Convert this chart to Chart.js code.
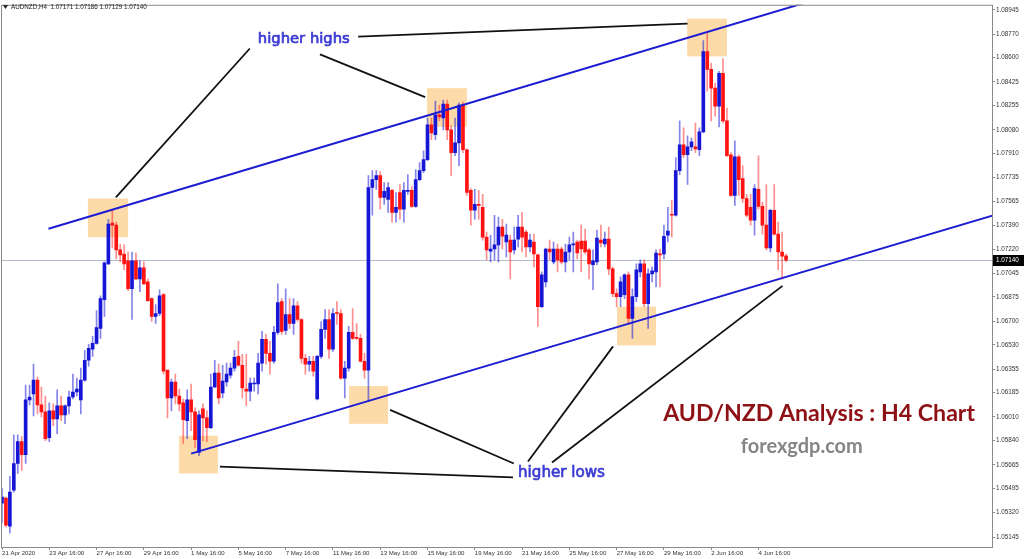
<!DOCTYPE html>
<html><head><meta charset="utf-8">
<script src="https://cdn.jsdelivr.net/npm/chart.js@4.4.1/dist/chart.umd.min.js"></script>
<style>html,body{margin:0;padding:0;background:#fff;overflow:hidden}#wrap{position:relative;width:1024px;height:559px}</style>
</head><body><div id="wrap"><canvas id="c" width="1024" height="559"></canvas></div>
<script>
// ---- OHLC data (AUDNZD H4), bar index 0 = 21 Apr 2020 16:00 ----
const opens = [1.05389,1.05425,1.05224,1.05482,1.05675,1.05833,1.05739,1.06133,1.06176,1.06276,
1.06097,1.06047,1.05861,1.06054,1.05997,1.06090,1.06025,1.06090,1.06154,1.06190,
1.06133,1.06276,1.06419,1.06498,1.06541,1.06648,1.06856,1.07114,1.07407,1.07393,
1.07214,1.07185,1.07135,1.06934,1.07135,1.07006,1.07085,1.06984,1.06863,1.06734,
1.06756,1.06892,1.06348,1.06147,1.06262,1.06161,1.06112,1.05983,1.06133,1.06047,
1.05754,1.06069,1.06004,1.05933,1.06226,1.06326,1.06183,1.06262,1.06312,1.06362,
1.06447,1.06383,1.06212,1.06197,1.06248,1.06248,1.06398,1.06569,1.06469,1.06412,
1.06620,1.06841,1.06634,1.06749,1.06684,1.06812,1.06713,1.06433,1.06391,1.06412,
1.06140,1.06447,1.06641,1.06713,1.06498,1.06763,1.06756,1.06290,1.06362,1.06620,
1.06584,1.06577,1.06412,1.06348,1.07664,1.07721,1.07750,1.07592,1.07578,1.07643,
1.07485,1.07628,1.07507,1.07636,1.07643,1.07528,1.07721,1.07786,1.07865,1.08115,
1.08044,1.08187,1.08165,1.08265,1.08079,1.07915,1.07986,1.08258,1.07936,1.07643,
1.07500,1.07543,1.07521,1.07306,1.07206,1.07221,1.07250,1.07378,1.07271,1.07285,
1.07214,1.07292,1.07378,1.07342,1.07235,1.07271,1.07178,1.06805,1.06984,1.07221,
1.07128,1.07221,1.07221,1.07128,1.07199,1.07250,1.07271,1.07278,1.07278,1.07214,
1.07107,1.07128,1.07285,1.07257,1.07292,1.07078,1.06899,1.06877,1.06892,1.07035,
1.06720,1.06877,1.07056,1.07114,1.06827,1.07042,1.07056,1.07185,1.07185,1.07321,
1.07471,1.07464,1.07786,1.07972,1.07900,1.07957,1.07957,1.07936,1.08065,1.08644,
1.08516,1.08380,1.08251,1.08487,1.08144,1.07900,1.07607,1.07886,1.07729,1.07585,
1.07521,1.07428,1.07650,1.07528,1.07393,1.07228,1.07500,1.07328,1.07199,1.07171];
const highs = [1.05496,1.05432,1.05582,1.05882,1.05882,1.05868,1.06240,1.06240,1.06391,1.06297,
1.06226,1.06161,1.06112,1.06105,1.06205,1.06161,1.06097,1.06197,1.06319,1.06290,
1.06362,1.06491,1.06534,1.06591,1.06777,1.06884,1.07128,1.07435,1.07500,1.07414,
1.07257,1.07250,1.07199,1.07199,1.07192,1.07135,1.07128,1.07006,1.06870,1.06820,
1.06927,1.06899,1.06348,1.06283,1.06319,1.06212,1.06140,1.06205,1.06248,1.06076,
1.06054,1.06105,1.06054,1.06319,1.06419,1.06391,1.06383,1.06398,1.06398,1.06491,
1.06555,1.06462,1.06462,1.06290,1.06290,1.06469,1.06627,1.06605,1.06555,1.06663,
1.06970,1.06863,1.06934,1.06863,1.06863,1.06841,1.06720,1.06462,1.06447,1.06447,
1.06455,1.06698,1.06784,1.06784,1.06791,1.06841,1.06784,1.06412,1.06663,1.06791,
1.06684,1.06605,1.06469,1.07750,1.07786,1.07786,1.07779,1.07700,1.07700,1.07650,
1.07628,1.07686,1.07700,1.07757,1.07671,1.07793,1.07843,1.07929,1.08165,1.08165,
1.08287,1.08258,1.08294,1.08294,1.08108,1.08165,1.08272,1.08280,1.07943,1.07657,
1.07650,1.07643,1.07614,1.07342,1.07321,1.07464,1.07450,1.07435,1.07400,1.07321,
1.07378,1.07464,1.07485,1.07357,1.07328,1.07328,1.07185,1.07056,1.07228,1.07285,
1.07271,1.07257,1.07235,1.07257,1.07306,1.07342,1.07285,1.07393,1.07364,1.07228,
1.07214,1.07357,1.07393,1.07342,1.07378,1.07092,1.06934,1.07020,1.07042,1.07056,
1.06934,1.07114,1.07142,1.07142,1.07078,1.07092,1.07214,1.07221,1.07393,1.07521,
1.07571,1.07879,1.08144,1.08094,1.08036,1.08022,1.08129,1.08094,1.08723,1.08773,
1.08559,1.08416,1.08501,1.08594,1.08237,1.07915,1.08001,1.07900,1.07822,1.07614,
1.07614,1.07686,1.07893,1.07557,1.07686,1.07507,1.07686,1.07414,1.07342,1.07186];
const lows = [1.05246,1.05217,1.05175,1.05468,1.05604,1.05625,1.05675,1.06097,1.06018,1.06033,
1.06011,1.05840,1.05833,1.05947,1.05890,1.05983,1.05962,1.06033,1.06140,1.06161,
1.06033,1.06269,1.06376,1.06447,1.06534,1.06577,1.06734,1.07107,1.07228,1.07149,
1.07128,1.07071,1.06920,1.06713,1.06999,1.06913,1.06963,1.06841,1.06698,1.06684,
1.06741,1.06319,1.06004,1.06054,1.06105,1.06054,1.05819,1.05854,1.05911,1.05790,
1.05732,1.05840,1.05833,1.05926,1.06219,1.06105,1.06147,1.06233,1.06290,1.06340,
1.06376,1.06147,1.06090,1.06126,1.06197,1.06176,1.06340,1.06391,1.06319,1.06398,
1.06605,1.06605,1.06605,1.06648,1.06605,1.06698,1.06398,1.06319,1.06340,1.06304,
1.06133,1.06433,1.06577,1.06433,1.06483,1.06677,1.06283,1.06147,1.06340,1.06569,
1.06569,1.06405,1.06290,1.06126,1.07464,1.07650,1.07507,1.07543,1.07485,1.07414,
1.07414,1.07435,1.07414,1.07614,1.07521,1.07521,1.07714,1.07771,1.07857,1.08008,
1.08008,1.08144,1.08079,1.08008,1.07750,1.07893,1.07822,1.07915,1.07607,1.07393,
1.07435,1.07435,1.07285,1.07142,1.07128,1.07142,1.07128,1.07221,1.07163,1.07006,
1.07185,1.07235,1.07199,1.07163,1.07199,1.07092,1.06663,1.06798,1.06948,1.07142,
1.07114,1.07056,1.07114,1.07056,1.07142,1.07056,1.07149,1.07056,1.07185,1.07006,
1.06927,1.07107,1.07235,1.07235,1.07035,1.06877,1.06805,1.06805,1.06863,1.06677,
1.06577,1.06841,1.07020,1.06805,1.06648,1.06984,1.06948,1.06948,1.07149,1.07271,
1.07306,1.07457,1.07757,1.07879,1.07686,1.07929,1.07915,1.07893,1.08058,1.08358,
1.08144,1.08179,1.08101,1.08129,1.07886,1.07600,1.07535,1.07607,1.07557,1.07450,
1.07393,1.07321,1.07507,1.07328,1.07214,1.07199,1.07321,1.07071,1.07006,1.07129];
const closes = [1.05432,1.05231,1.05468,1.05675,1.05833,1.05739,1.06133,1.06154,1.06276,1.06097,
1.06047,1.05854,1.06054,1.05997,1.06090,1.06025,1.06090,1.06154,1.06190,1.06212,
1.06276,1.06419,1.06505,1.06541,1.06655,1.06863,1.07121,1.07400,1.07393,1.07214,
1.07178,1.07114,1.06934,1.07135,1.07006,1.07085,1.06970,1.06849,1.06734,1.06756,
1.06884,1.06340,1.06147,1.06262,1.06161,1.06105,1.05990,1.06133,1.06047,1.05847,
1.06025,1.06004,1.05933,1.06226,1.06326,1.06147,1.06269,1.06319,1.06362,1.06440,
1.06383,1.06219,1.06197,1.06254,1.06254,1.06398,1.06569,1.06469,1.06412,1.06620,
1.06834,1.06627,1.06749,1.06684,1.06812,1.06713,1.06433,1.06391,1.06412,1.06340,
1.06447,1.06641,1.06713,1.06498,1.06756,1.06756,1.06290,1.06362,1.06620,1.06577,
1.06577,1.06412,1.06348,1.07664,1.07721,1.07750,1.07592,1.07636,1.07664,1.07485,
1.07521,1.07507,1.07643,1.07643,1.07528,1.07721,1.07786,1.07865,1.08115,1.08058,
1.08187,1.08172,1.08265,1.08079,1.07915,1.07986,1.08258,1.07936,1.07628,1.07500,
1.07543,1.07535,1.07306,1.07214,1.07221,1.07250,1.07378,1.07313,1.07321,1.07199,
1.07285,1.07378,1.07306,1.07235,1.07285,1.07185,1.06805,1.07035,1.07221,1.07199,
1.07221,1.07142,1.07128,1.07199,1.07250,1.07257,1.07192,1.07221,1.07199,1.07114,
1.07135,1.07299,1.07264,1.07292,1.07078,1.06899,1.06877,1.06984,1.07035,1.06720,
1.06877,1.07071,1.07114,1.06827,1.07042,1.07063,1.07192,1.07178,1.07313,1.07350,
1.07464,1.07786,1.07972,1.07900,1.07957,1.07993,1.07943,1.08065,1.08644,1.08516,
1.08380,1.08251,1.08487,1.08144,1.07893,1.07607,1.07886,1.07721,1.07585,1.07464,
1.07428,1.07657,1.07528,1.07393,1.07228,1.07500,1.07328,1.07199,1.07170,1.07140];

// ---- axis labels ----
const xTickIndex = [0,12,24,36,48,60,72,84,96,108,120,132,144,156,168,180,192];
const xTickLabels = ['21 Apr 2020','23 Apr 16:00','27 Apr 16:00','29 Apr 16:00','1 May 16:00','5 May 16:00',
  '7 May 16:00','11 May 16:00','13 May 16:00','15 May 16:00','19 May 16:00','21 May 16:00',
  '25 May 16:00','27 May 16:00','29 May 16:00','2 Jun 16:00','4 Jun 16:00'];
const yTickValues = [1.08945,1.08770,1.08600,1.08425,1.08255,1.08080,1.07910,1.07735,1.07565,1.07390,
  1.07220,1.07045,1.06875,1.06700,1.06530,1.06355,1.06185,1.06010,1.05840,1.05665,1.05495,1.05320,1.05145];
const currentPrice = 1.07140;
const symbolTitle = 'AUDNZD,H4  1.07171 1.07186 1.07129 1.07140';

// ---- annotations (bar index, price) ----
const upperTrend = [[11.8,1.07367],[206.6,1.09019]];
const lowerTrend = [[48.0,1.05746],[252.0,1.07467]];
const connectors = [
  [[62.9,1.08666],[28.9,1.07593]],
  [[80.7,1.08623],[107.4,1.08315]],
  [[90.4,1.08752],[174.0,1.08845]],
  [[55.3,1.05653],[129.7,1.05575]],
  [[98.5,1.06061],[129.9,1.05675]],
  [[133.5,1.05689],[155.1,1.06519]],
  [[139.6,1.05682],[198.1,1.06955]]
];
const highlightBoxes = [
  [21.8,32.0,1.07585,1.07306],
  [107.9,118.0,1.08380,1.08101],
  [173.9,184.0,1.08881,1.08609],
  [44.9,54.8,1.05875,1.05603],
  [88.1,98.0,1.06233,1.05961],
  [156.1,166.0,1.06805,1.06526]
];
const notes = [
  {text:'higher highs', x:76.6, y:1.08702, w:92, color:'#3c3cd4', font:'"DejaVu Sans"', weight:'normal', stroke:0.7},
  {text:'higher lows', x:142.0, y:1.05575, w:87, color:'#3c3cd4', font:'"DejaVu Sans"', weight:'normal', stroke:0.7},
  {text:'AUD/NZD Analysis : H4 Chart', x:207.4, y:1.05983, w:312, color:'#8e1116', font:'Lato', weight:'bold', stroke:0},
  {text:'forexgdp.com', x:203.0, y:1.05754, w:122, color:'#858585', font:'Lato', weight:'bold', stroke:0}
];

const UP='#1616d6', DN='#ff1212', WUP='rgba(30,30,215,0.55)', WDN='rgba(255,30,30,0.5)';
const idx = opens.map((_, i) => i);
const bull = idx.map(i => closes[i] >= opens[i]);
const wickData = idx.map(i => ({x:i, y:[lows[i], highs[i]]}));
const bodyData = idx.map(i => ({x:i, y:[Math.min(opens[i],closes[i]), Math.max(opens[i],closes[i])]}));
const toPts = seg => seg.map(([x,y]) => ({x, y}));

const datasets = [
  {type:'bar', data:wickData, grouped:false, barThickness:1, order:4,
   backgroundColor: c => bull[c.dataIndex] ? WUP : WDN, borderWidth:0},
  {type:'bar', data:bodyData, grouped:false, barThickness:3, minBarLength:1, order:3,
   backgroundColor: c => bull[c.dataIndex] ? UP : DN, borderWidth:0},
  ...connectors.map(s => ({type:'line', data:toPts(s), borderColor:'#111', borderWidth:1.8,
   pointRadius:0, order:1, clip:0})),
  {type:'line', data:toPts(upperTrend), borderColor:'#1c1cd2', borderWidth:2, pointRadius:0, order:0, clip:0},
  {type:'line', data:toPts(lowerTrend), borderColor:'#1c1cd2', borderWidth:2, pointRadius:0, order:0, clip:0}
];

const deco = {
  id:'deco',
  beforeDatasetsDraw(chart){
    const {ctx, chartArea:a, scales:{x,y}} = chart;
    ctx.save();
    ctx.beginPath(); ctx.rect(a.left, a.top, a.right-a.left, a.bottom-a.top); ctx.clip();
    const py = Math.round(y.getPixelForValue(currentPrice)) + 0.5;
    ctx.strokeStyle = '#b3bccb'; ctx.lineWidth = 1;
    ctx.beginPath(); ctx.moveTo(a.left, py); ctx.lineTo(a.right, py); ctx.stroke();
    ctx.fillStyle = '#fddba9';
    highlightBoxes.forEach(([i0,i1,p0,p1]) => {
      const x0 = x.getPixelForValue(i0), x1 = x.getPixelForValue(i1);
      const y0 = y.getPixelForValue(p0), y1 = y.getPixelForValue(p1);
      ctx.fillRect(x0, y0, x1-x0, y1-y0);
    });
    ctx.restore();
  },
  afterDraw(chart){
    const {ctx, chartArea:a, scales:{x,y}} = chart;
    ctx.save();
    ctx.strokeStyle = '#8a8a8a'; ctx.lineWidth = 1;
    ctx.strokeRect(a.left + 0.5, a.top + 0.5, a.right - a.left, a.bottom - a.top);
    notes.forEach(n => {
      ctx.font = n.weight + ' 20px ' + n.font;
      const w = ctx.measureText(n.text).width;
      const size = 20 * n.w / w;
      ctx.font = n.weight + ' ' + size.toFixed(2) + 'px ' + n.font;
      ctx.fillStyle = n.color; ctx.textAlign = 'center'; ctx.textBaseline = 'alphabetic';
      const px = x.getPixelForValue(n.x), pyy = y.getPixelForValue(n.y);
      ctx.fillText(n.text, px, pyy);
      if (n.stroke) { ctx.strokeStyle = n.color; ctx.lineWidth = n.stroke; ctx.strokeText(n.text, px, pyy); }
    });
    const py = Math.round(y.getPixelForValue(currentPrice));
    ctx.fillStyle = '#000';
    ctx.fillRect(a.right + 1, py - 5, 1024 - a.right - 1, 11);
    ctx.fillStyle = '#fff'; ctx.font = '6.3px "Liberation Sans"';
    ctx.textAlign = 'left'; ctx.textBaseline = 'middle';
    ctx.fillText(currentPrice.toFixed(5), a.right + 4, py + 0.5);
    ctx.fillStyle = '#222';
    ctx.beginPath(); ctx.moveTo(3, 5); ctx.lineTo(8, 5); ctx.lineTo(5.5, 9); ctx.closePath(); ctx.fill();
    ctx.font = '6.3px "Liberation Sans"';
    ctx.fillText(symbolTitle, 11, 7);
    ctx.restore();
  }
};

new Chart(document.getElementById('c'), {
  type:'bar',
  data:{datasets},
  options:{
    responsive:false, animation:false, devicePixelRatio:1,
    layout:{padding:{left:1, top:1, right:0, bottom:0}},
    plugins:{legend:{display:false}, tooltip:{enabled:false}},
    scales:{
      x:{type:'linear', min:-0.254, max:251.27, offset:false,
        grid:{display:true, drawOnChartArea:false, drawTicks:true, tickLength:3, color:'#8a8a8a', offset:false},
        border:{display:false},
        afterBuildTicks: s => { s.ticks = xTickIndex.map(v => ({value:v})); },
        afterFit: s => { s.height = 12; },
        ticks:{autoSkip:false, maxRotation:0, align:'start', padding:0, color:'#333',
          font:{family:'"Liberation Sans"', size:6.1},
          callback: v => { const k = xTickIndex.indexOf(v); return k >= 0 ? xTickLabels[k] : ''; }}
      },
      y:{type:'linear', position:'right', min:1.05073, max:1.08981, beginAtZero:false,
        grid:{display:true, drawOnChartArea:false, drawTicks:true, tickLength:3, color:'#8a8a8a'},
        border:{display:false},
        afterBuildTicks: s => { s.ticks = yTickValues.map(v => ({value:v})); },
        afterFit: s => { s.width = 32; },
        ticks:{autoSkip:false, padding:1, color:'#333',
          font:{family:'"Liberation Sans"', size:6.3},
          callback: v => Number(v).toFixed(5)}
      }
    }
  },
  plugins:[deco]
});
</script>
</body></html>
